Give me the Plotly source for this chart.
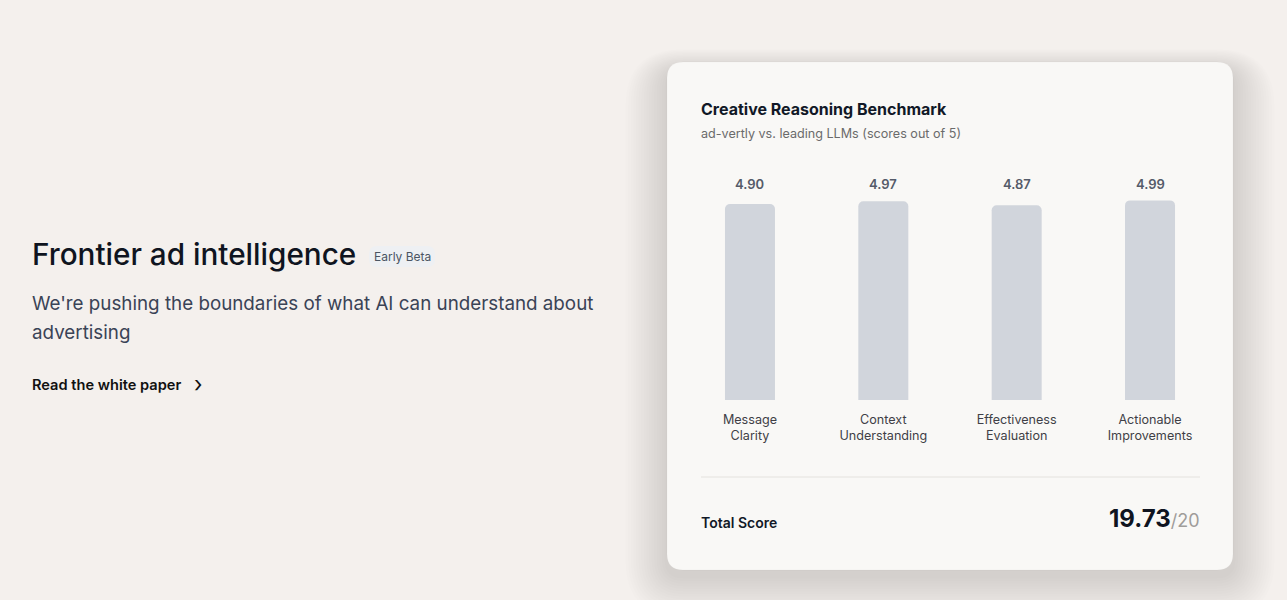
import plotly.graph_objects as go

categories = ["Message<br>Clarity", "Context<br>Understanding", "Effectiveness<br>Evaluation", "Actionable<br>Improvements"]
scores = [4.90, 4.97, 4.87, 4.99]
score_labels = ["4.90", "4.97", "4.87", "4.99"]
total_score = "19.73"
total_max = "/20"

W, H = 1287, 600
FONT = "Inter, 'Noto Sans', sans-serif"
BG = "#f4f0ed"

def px(x):
    return x / W

def py(y):
    return 1 - y / H

def rrect(x0, y0, x1, y1, r):
    X = lambda v: f"{px(v):.6f}"
    Y = lambda v: f"{py(v):.6f}"
    return (f"M {X(x0 + r)},{Y(y0)} L {X(x1 - r)},{Y(y0)} "
            f"Q {X(x1)},{Y(y0)} {X(x1)},{Y(y0 + r)} L {X(x1)},{Y(y1 - r)} "
            f"Q {X(x1)},{Y(y1)} {X(x1 - r)},{Y(y1)} L {X(x0 + r)},{Y(y1)} "
            f"Q {X(x0)},{Y(y1)} {X(x0)},{Y(y1 - r)} L {X(x0)},{Y(y0 + r)} "
            f"Q {X(x0)},{Y(y0)} {X(x0 + r)},{Y(y0)} Z")

shapes = []
cx0, cy0, cx1, cy1 = 667, 62, 1233, 570
for i in range(16, 0, -1):
    s = i * 2.6
    shapes.append(dict(type="path", xref="paper", yref="paper",
                       path=rrect(cx0 - s, cy0 - s * 0.5 + 8, cx1 + s, cy1 + s * 1.0 + 6, 16 + s),
                       fillcolor="rgba(60,58,56,0.008)", line=dict(width=0), layer="below"))
shapes.append(dict(type="path", xref="paper", yref="paper", path=rrect(cx0, cy0, cx1, cy1, 16),
                   fillcolor="#f9f8f6", line=dict(color="rgba(0,0,0,0.025)", width=1), layer="below"))
shapes.append(dict(type="line", xref="paper", yref="paper", x0=px(701), x1=px(1200), y0=py(477), y1=py(477),
                   line=dict(color="#e4e2de", width=1)))
shapes.append(dict(type="path", xref="paper", yref="paper", path=rrect(369, 246, 435, 267, 8),
                   fillcolor="#eef0f3", line=dict(width=0)))

fig = go.Figure()
fig.add_trace(go.Bar(
    x=categories, y=scores, marker=dict(color="#d1d5dc", line=dict(width=0)),
    hoverinfo="skip", showlegend=False,
))

annotations = []
for c, lab in zip(categories, score_labels):
    annotations.append(dict(x=c, xref="x", y=py(184), yref="paper", text=lab, showarrow=False,
                            font=dict(family=FONT, size=13, color="#555b69", weight=600),
                            xanchor="center", yanchor="middle"))

def txt(x, y, text, size, color, weight=400, xanchor="left", yanchor="middle"):
    annotations.append(dict(x=px(x), y=py(y), xref="paper", yref="paper", text=text, showarrow=False,
                            font=dict(family=FONT, size=size, color=color, weight=weight),
                            xanchor=xanchor, yanchor=yanchor, align="left"))

txt(699, 109, "Creative Reasoning Benchmark", 16, "#111827", 700)
txt(699, 133, "ad-vertly vs. leading LLMs (scores out of 5)", 12.6, "#6b6b6b")
txt(699, 522, "Total Score", 14, "#111827", 600)
annotations.append(dict(x=px(1202), y=py(535), xref="paper", yref="paper",
                        text=f"<span style='font-size:24px;color:#0f1420;font-weight:700'>{total_score}</span>"
                             f"<span style='font-size:18px;color:#a09d9a'>{total_max}</span>",
                        showarrow=False, font=dict(family=FONT, size=18, color="#a09d9a"),
                        xanchor="right", yanchor="bottom"))

txt(30, 254, "Frontier ad intelligence", 29.7, "#0f1420", 500)
txt(402, 256, "Early Beta", 12, "#4b5563", xanchor="center")
txt(30, 303, "We're pushing the boundaries of what AI can understand about", 18.8, "#3a4356")
txt(30, 332, "advertising", 18.8, "#3a4356")
txt(30, 385, "Read the white paper", 14.6, "#111111", 600)
txt(192, 384, "›", 22, "#111111", 400)

fig.update_layout(
    width=W, height=H, margin=dict(l=0, r=0, t=0, b=0),
    paper_bgcolor=BG, plot_bgcolor="rgba(0,0,0,0)",
    bargap=0.625, barcornerradius=5,
    shapes=shapes, annotations=annotations,
    xaxis=dict(domain=[px(683.3), px(1216.7)], showgrid=False, zeroline=False, showline=False,
               ticks="", ticklabelstandoff=10,
               tickfont=dict(family=FONT, size=12.6, color="#3f3f46"), fixedrange=True),
    yaxis=dict(domain=[py(400), py(200)], range=[0, 5.0], visible=False, fixedrange=True),
    font=dict(family=FONT),
)

fig.write_html("out.html", config={"displayModeBar": False},
               post_script=f"document.body.style.margin='0';document.body.style.background='{BG}';")
